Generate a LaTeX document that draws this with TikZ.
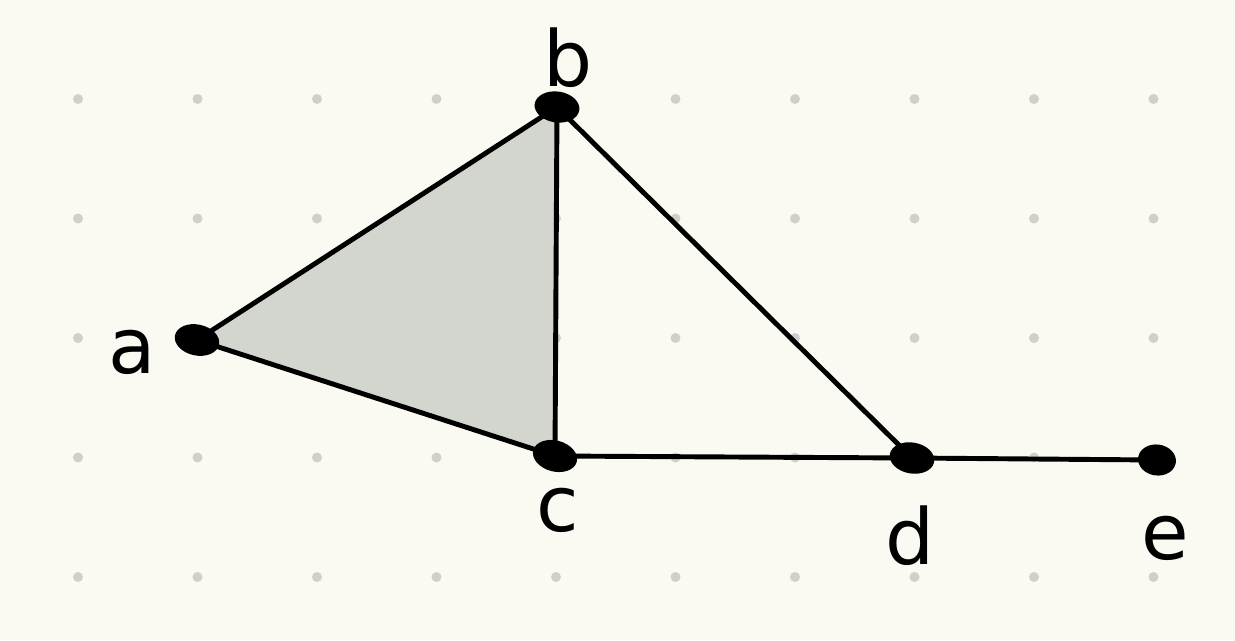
\documentclass[tikz,border=0pt]{standalone}
\usepackage{fontspec}
\setsansfont{DejaVu Sans}
\usetikzlibrary{shapes.geometric}
\definecolor{paper}{HTML}{FAFAF2}
\definecolor{griddot}{HTML}{D0D0CA}
\definecolor{face}{HTML}{D2D6CF}
\tikzset{
  vtx/.style={ellipse,fill=black,minimum width=0.9cm,minimum height=0.62cm,inner sep=0pt},
  lbl/.style={inner sep=0pt,font=\sffamily\fontsize{44}{44}\selectfont},
  simpline/.style={line width=2.8pt}
}
\begin{document}
\begin{tikzpicture}[x=0.02cm,y=-0.02cm,line cap=round,line join=round]
  \fill[paper] (0,0) rectangle (1235,640);
  \useasboundingbox (0,0) rectangle (1235,640);
  % dot grid
  \foreach \i in {0,...,9}
    \foreach \j in {0,...,4}
      \fill[griddot] (78+119.5*\i,99+119.5*\j) circle (5);
  % vertices
  \coordinate (a) at (197,340);
  \coordinate (b) at (557,107);
  \coordinate (c) at (555,456);
  \coordinate (d) at (912,458);
  \coordinate (e) at (1157,460);
  % shaded face
  \fill[face] (a) -- (b) -- (c) -- cycle;
  \draw[simpline] (a) -- (b) -- (c) -- cycle;
  \draw[simpline] (b) -- (d);
  \draw[simpline] (c) -- (d) -- (e);
  \foreach \v/\r in {a/-12,b/-8,c/-15,d/-10}
    \node[vtx,rotate=\r] (v\v) at (\v) {};
  \node[vtx,minimum width=0.76cm,rotate=-8] (ve) at (e) {};
  % labels
  \node[lbl] (la) at (132,352) {a};
  \node[lbl] (lb) at (568,58) {b};
  \node[lbl] (lc) at (558,510) {c};
  \node[lbl] (ld) at (910,536) {d};
  \node[lbl] (le) at (1165,538) {e};
\end{tikzpicture}
\end{document}
